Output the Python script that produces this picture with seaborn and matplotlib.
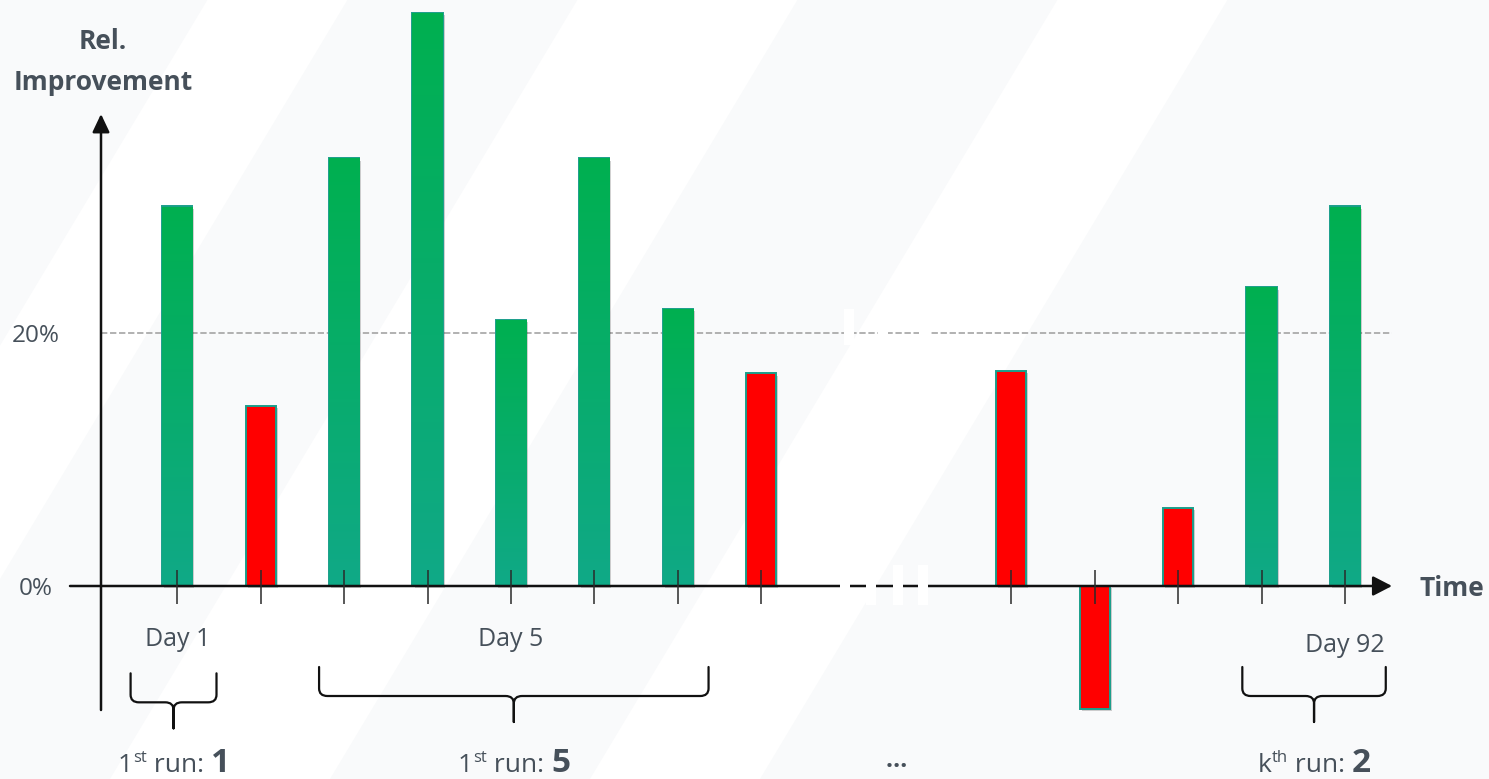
import numpy as np
import pandas as pd
import matplotlib
matplotlib.use('Agg')
import matplotlib.pyplot as plt
import seaborn as sns
import matplotlib.patheffects as pe
from matplotlib.path import Path
from matplotlib.patches import PathPatch, Rectangle, Polygon
from matplotlib.colors import LinearSegmentedColormap

# --- data ---
positions = [0, 1, 2, 3, 4, 5, 6, 7, 10, 11, 12, 13, 14]          # time slots (gap = skipped days)
improvement = [30.0, 14.2, 33.8, 45.3, 21.0, 33.8, 21.9, 16.8,
               17.0, -9.7, 6.2, 23.6, 30.0]                         # rel. improvement in %
threshold = 20
y_ticks = [0, 20]
y_tick_labels = ['0%', '20%']
day_labels = {0: 'Day 1', 4: 'Day 5', 14: 'Day 92'}
run_names = [('1', 'st', '1'), ('1', 'st', '5'), ('k', 'th', '2')]
brace_spans = [(-0.56, 0.47), (1.70, 6.37), (12.77, 14.49)]

GREEN_TOP = '#00B050'
GREEN_BOTTOM = '#10A987'
RED = '#FF0000'
EDGE = '#1A9E8A'
TXT = '#46505A'

sns.set_style('white')
plt.rcParams['font.family'] = ['Open Sans', 'DejaVu Sans']

W, H = 1489, 779
fig = plt.figure(figsize=(W / 100, H / 100), dpi=100)
fig.patch.set_facecolor('white')

ax = fig.add_axes([0, 0, 1, 1])
ax.patch.set_alpha(0)

# faint diagonal background bands (figure coords, drawn at the very back)
for xb, w in [(-520, 260), (-120, 230), (330, 260), (760, 900)]:
    s = 0.6 * H
    pts = [(xb, H), (xb + w, H), (xb + w + s, 0), (xb + s, 0)]
    ax.add_patch(Polygon([(px / W, 1 - py / H) for px, py in pts],
                         closed=True, transform=fig.transFigure,
                         facecolor='#F9FAFB', edgecolor='none', zorder=0))

# pixel -> data helpers (x: 83.4 px per slot, y: 12.65 px per %)
X0, XS = 177.3, 83.4
Y0, YS = 586, 12.65
def px2x(px):
    return (px - X0) / XS
def px2y(py):
    return (Y0 - py) / YS

df = pd.DataFrame({'position': positions, 'improvement': improvement})
df['kind'] = np.where(df['improvement'] >= threshold, 'above', 'below')

n_bg = len(ax.patches)
sns.barplot(data=df, x='position', y='improvement', hue='kind',
            palette={'above': GREEN_TOP, 'below': RED}, native_scale=True,
            dodge=False, width=0.36, errorbar=None, legend=False, saturation=1,
            edgecolor=EDGE, linewidth=1.4, ax=ax, zorder=3)

cmap = LinearSegmentedColormap.from_list('g', [GREEN_BOTTOM, GREEN_TOP])
grad = np.linspace(0, 1, 256).reshape(-1, 1)
for patch in list(ax.patches)[n_bg:]:
    patch.set_path_effects([pe.SimplePatchShadow(offset=(1.5, -1.5), shadow_rgbFace='k', alpha=0.18),
                            pe.Normal()])
    fc = patch.get_facecolor()
    if fc[1] > 0.5:  # green bars get the vertical gradient
        x0, w, h = patch.get_x(), patch.get_width(), patch.get_height()
        im = ax.imshow(grad, extent=[x0, x0 + w, 0, h], origin='lower', cmap=cmap,
                       aspect='auto', interpolation='bicubic', zorder=3.5)
        im.set_clip_path(patch)

# 20% reference line
ax.plot([px2x(101), px2x(1392)], [threshold, threshold], color='#ABABAB', lw=1.3,
        ls=(0, (3.5, 1.5)), zorder=1)

# axes with arrows
ax.annotate('', xy=(px2x(1392), 0), xytext=(px2x(70), 0),
            arrowprops=dict(arrowstyle='-|>,head_length=0.58,head_width=0.3', lw=1.8,
                            color='#111111', shrinkA=0, shrinkB=0, mutation_scale=20), zorder=5)
ax.annotate('', xy=(px2x(101), px2y(114)), xytext=(px2x(101), px2y(710)),
            arrowprops=dict(arrowstyle='-|>,head_length=0.55,head_width=0.26', lw=1.8,
                            color='#111111', shrinkA=0, shrinkB=0, mutation_scale=20), zorder=5)

# tick marks on the time axis
ax.vlines(positions, px2y(604), px2y(570), color='#2A2A2A', lw=1.1, zorder=6)

# axis break (white gaps) between the two groups
for px in [840, 866, 893, 918]:
    ax.add_patch(Rectangle((px2x(px), px2y(605)), 10 / XS, 40 / YS,
                           facecolor='white', edgecolor='none', zorder=7))
for px in [844, 878, 919]:
    ax.add_patch(Rectangle((px2x(px), px2y(345)), 10 / XS, 36 / YS,
                           facecolor='white', edgecolor='none', zorder=7))

# y tick labels and axis titles
for v, lab in zip(y_ticks, y_tick_labels):
    ax.text(px2x(36), v - 0.2, lab, ha='center', va='center', fontsize=17.5, color=TXT)
ax.text(px2x(103), px2y(42), 'Rel.', ha='center', va='center', fontsize=19,
        fontweight='bold', color=TXT)
ax.text(px2x(103), px2y(82), 'Improvement', ha='center', va='center', fontsize=19,
        fontweight='bold', color=TXT)
ax.text(px2x(1420), px2y(588), 'Time', ha='left', va='center', fontsize=19,
        fontweight='bold', color=TXT)

for pos, lab in day_labels.items():
    yy = px2y(646) if pos == 14 else px2y(640)
    ax.text(pos, yy, lab, ha='center', va='center', fontsize=18, color=TXT)

# curly braces under the run groups
def brace(x0, x1, y_top, y_line, y_tip, rx=0.1, ry=0.6):
    xm = (x0 + x1) / 2
    verts, codes = [], []
    for xe, sgn in [(x0, 1), (x1, -1)]:
        verts += [(xe, y_top), (xe, y_line + ry), (xe, y_line), (xe + sgn * rx, y_line),
                  (xm - sgn * rx, y_line), (xm, y_line), (xm, y_line - ry), (xm, y_tip)]
        codes += [Path.MOVETO, Path.LINETO, Path.CURVE3, Path.CURVE3,
                  Path.LINETO, Path.CURVE3, Path.CURVE3, Path.LINETO]
    ax.add_patch(PathPatch(Path(verts, codes), facecolor='none', edgecolor='#111111',
                           lw=1.6, capstyle='round', zorder=5))
    return xm

yb = px2y(772)
centers = []
for i, (a, b) in enumerate(brace_spans):
    off = 0.5 if i == 0 else 0.0
    centers.append(brace(a, b, px2y(667) - off, px2y(696) - off, px2y(722) - off))

# run labels: "1st run: 1" etc, built from chained pieces then centred
groups = []
for (pre, sup, num), cx in zip(run_names, centers):
    t1 = ax.text(cx, yb, pre, ha='left', va='baseline', fontsize=19, color=TXT)
    t2 = ax.annotate(sup, xy=(1, yb), xycoords=(t1, 'data'), xytext=(0.5, 7.5),
                     textcoords='offset points', ha='left', va='baseline', fontsize=12, color=TXT)
    t3 = ax.annotate(' run: ', xy=(1, yb), xycoords=(t2, 'data'), ha='left',
                     va='baseline', fontsize=19, color=TXT)
    t4 = ax.annotate(num, xy=(1, yb), xycoords=(t3, 'data'), ha='left',
                     va='baseline', fontsize=24, fontweight='bold', color=TXT)
    groups.append((cx, [t1, t2, t3, t4]))
ax.text(px2x(896), yb + 0.4, '…', ha='center', va='baseline', fontsize=18,
        fontweight='bold', color=TXT)

ax.set_xlim(px2x(0), px2x(W))
ax.set_ylim(px2y(H), px2y(0))
ax.axis('off')

fig.canvas.draw()
r = fig.canvas.get_renderer()
for cx, pieces in groups:
    left = pieces[0].get_window_extent(r).x0
    right = pieces[-1].get_window_extent(r).x1
    shift = (right - left) / 2 / XS
    pieces[0].set_x(cx - shift)

fig.savefig('out.png', dpi=100, facecolor=fig.get_facecolor())
